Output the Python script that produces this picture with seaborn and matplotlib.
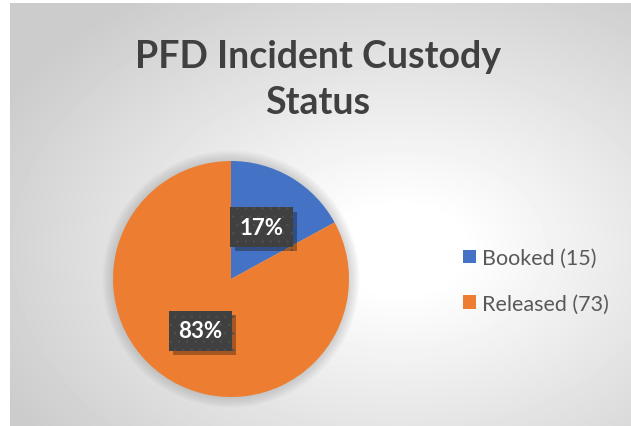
import numpy as np
import matplotlib
matplotlib.use("Agg")
import matplotlib.pyplot as plt
import matplotlib.patheffects as pe
from matplotlib.patches import Patch, Circle
import seaborn as sns

# Data
categories = ["Booked", "Released"]
counts = [15, 73]
title_text = "PFD Incident Custody\nStatus"
legend_labels = [f"{c} ({n})" for c, n in zip(categories, counts)]

sns.set_theme(style="white")
plt.rcParams['font.family'] = ['Lato', 'DejaVu Sans']
colors = ["#4472C4", "#ED7D31"]

W, H = 631, 427
fig = plt.figure(figsize=(W / 100, H / 100), dpi=100)
fig.patch.set_facecolor("white")

# Radial gradient background of the chart area
bg = fig.add_axes([10 / W, 0, (W - 10) / W, (H - 4) / H])
yy, xx = np.mgrid[0:H - 4, 0:W - 10]
d = np.sqrt(((xx - 390) / 310.0) ** 2 + ((yy - 246) / 211.0) ** 2)
shade = 1 - 0.2 * np.clip((d - 0.2) / 1.25, 0, 1)
bg.imshow(shade, cmap="gray", vmin=0, vmax=1, aspect="auto", origin="upper")
bg.set_axis_off()

# Pie
ax = fig.add_axes([113 / W, 29 / H, 236 / W, 236 / H])
for r in np.linspace(1.0, 1.09, 10):
    ax.add_patch(Circle((0, 0), r, color="#7f7f7f", alpha=0.035, lw=0, clip_on=False, zorder=0))
wedges, texts, autotexts = ax.pie(
    counts, colors=colors, startangle=90, counterclock=False,
    autopct="%.0f%%", pctdistance=0.51,
    wedgeprops=dict(linewidth=0),
)
ax.set_xlim(-1, 1)
ax.set_ylim(-1, 1)
ax.set_aspect("equal")

plt.rcParams['hatch.linewidth'] = 0.5
for t in autotexts:
    t.set_color("white")
    t.set_fontsize(16)
    t.set_fontweight("bold")
    t.set_bbox(dict(boxstyle="square,pad=0.42", facecolor="#404040",
                    edgecolor="#4f4f4f", linewidth=0, hatch=".."))
    t.get_bbox_patch().set_path_effects([
        pe.SimplePatchShadow(offset=(3, -3), shadow_rgbFace="black", alpha=0.3),
        pe.Normal(),
    ])

# Title
fig.text(318 / W, 1 - 80 / H, title_text, ha="center", va="center",
         fontsize=27, fontweight="bold", color="#404040", linespacing=1.45)

# Legend
handles = [Patch(facecolor=c, edgecolor="none") for c in colors]
fig.legend(handles, legend_labels, loc="center left",
           bbox_to_anchor=(463 / W, 1 - 282 / H), frameon=False,
           fontsize=15.5, handlelength=0.62, handleheight=0.62,
           handletextpad=0.25, labelspacing=1.2, borderpad=0,
           borderaxespad=0, labelcolor="#595959")

fig.savefig("out.png", dpi=100)
